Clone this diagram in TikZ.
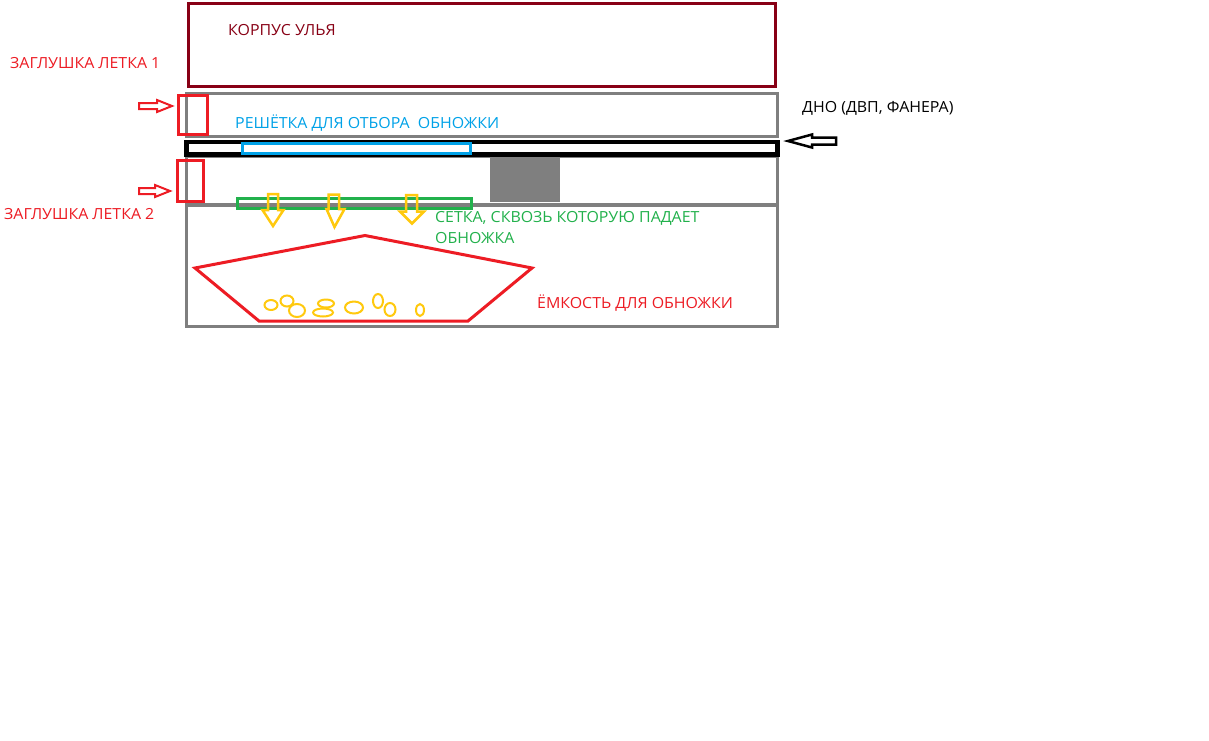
\documentclass[tikz,border=0pt]{standalone}
\usepackage{fontspec}
\setmainfont{Open Sans}[FakeStretch=1.04]
\definecolor{pdred}{HTML}{880015}
\definecolor{pgray}{HTML}{7F7F7F}
\definecolor{pred}{HTML}{ED1C24}
\definecolor{pblue}{HTML}{00A2E8}
\definecolor{pgreen}{HTML}{22B14C}
\definecolor{pyellow}{HTML}{FFC90E}
\begin{document}
\begin{tikzpicture}[x=1pt,y=-1pt,
  lbl/.style={anchor=base west,inner sep=0pt,font=\fontsize{15.3}{18}\selectfont},
  graybox/.style={draw=pgray,line width=3pt},
  redline/.style={draw=pred,line width=2.5pt,line join=miter},
  yarrow/.style={draw=pyellow,line width=2.5pt,line join=miter},
  egg/.style={draw=pyellow,line width=2pt}]
\useasboundingbox[fill=white] (0,0) rectangle (1209,740);
% hive body
\draw[draw=pdred,line width=3pt] (188.5,3.5) rectangle (775.5,86);
% upper letka box
\draw[graybox] (186.5,93.5) rectangle (777.5,136.5);
% bottom board
\draw[graybox] (186.5,156.5) rectangle (777.5,204.5);
\draw[graybox] (186.5,205) rectangle (777,326.5);
\fill[pgray] (490,154) rectangle (560,202);
\draw[black,line width=4.5pt] (186.5,142) rectangle (777.5,154.5);
% grid
\draw[draw=pblue,line width=3.5pt] (242.5,143.5) rectangle (470.5,153.5);
\draw[draw=pgreen,line width=3pt] (237.5,198.5) rectangle (471.5,208.5);
% plugs
\draw[redline] (178.5,95.5) rectangle (207.5,134.5);
\draw[redline] (177.5,160.5) rectangle (203.5,201.5);
% red arrows
\draw[draw=pred,line width=2pt] (139,103) -- (157,103) -- (157,100) -- (172,106) -- (157,112) -- (157,109) -- (139,109) -- cycle;
\draw[draw=pred,line width=2pt] (139,188) -- (155,188) -- (155,185) -- (170,191) -- (155,197) -- (155,194) -- (139,194) -- cycle;
% black arrow
\draw[black,line width=2.5pt,line join=miter] (836,137.5) -- (812,137.5) -- (812,134.5) -- (788,141) -- (812,147.5) -- (812,144.5) -- (836,144.5) -- cycle;
% yellow arrows
\draw[yarrow] (268,194) -- (278,194) -- (278,210) -- (283.5,210) -- (273,226) -- (262.5,210) -- (268,210) -- cycle;
\draw[yarrow] (328.5,194.5) -- (339,194.5) -- (339,209) -- (344.5,209) -- (334.5,227) -- (326.5,209) -- (328.5,209) -- cycle;
\draw[yarrow] (406,195) -- (417,195) -- (417,211.5) -- (424,211.5) -- (412,223.5) -- (400,211.5) -- (406,211.5) -- cycle;
% container
\draw[redline,line width=3pt] (195,268) -- (365,235.5) -- (532,268) -- (468,321) -- (259,321) -- cycle;
% pollen pellets
\draw[egg] (271,305) ellipse (6.5 and 5);
\draw[egg] (287,301) ellipse (6.5 and 5.5);
\draw[egg] (297,310.5) ellipse (8 and 6.5);
\draw[egg] (326,303.5) ellipse (8 and 4);
\draw[egg] (323,312.5) ellipse (10 and 4);
\draw[egg] (354,307.5) ellipse (9 and 6);
\draw[egg] (378,301) ellipse (5 and 7);
\draw[egg] (390,309.5) ellipse (5.5 and 6.5);
\draw[egg] (420,310) ellipse (4 and 6);
% labels
\node[lbl,text=pdred] (korpus) at (228,35) {КОРПУС УЛЬЯ};
\node[lbl,text=pred] (zag1) at (10,68) {ЗАГЛУШКА ЛЕТКА 1};
\node[lbl,text=black] (dno) at (802,112) {ДНО (ДВП, ФАНЕРА)};
\node[lbl,text=pblue] (resh) at (235,128) {РЕШЁТКА ДЛЯ ОТБОРА\ \ ОБНОЖКИ};
\node[lbl,text=pred] (zag2) at (4,219) {ЗАГЛУШКА ЛЕТКА 2};
\node[lbl,text=pgreen] (setka1) at (435,222) {СЕТКА, СКВОЗЬ КОТОРУЮ ПАДАЕТ};
\node[lbl,text=pgreen] (setka2) at (435,243) {ОБНОЖКА};
\node[lbl,text=pred] (emk) at (537,308) {ЁМКОСТЬ ДЛЯ ОБНОЖКИ};
\end{tikzpicture}
\end{document}
